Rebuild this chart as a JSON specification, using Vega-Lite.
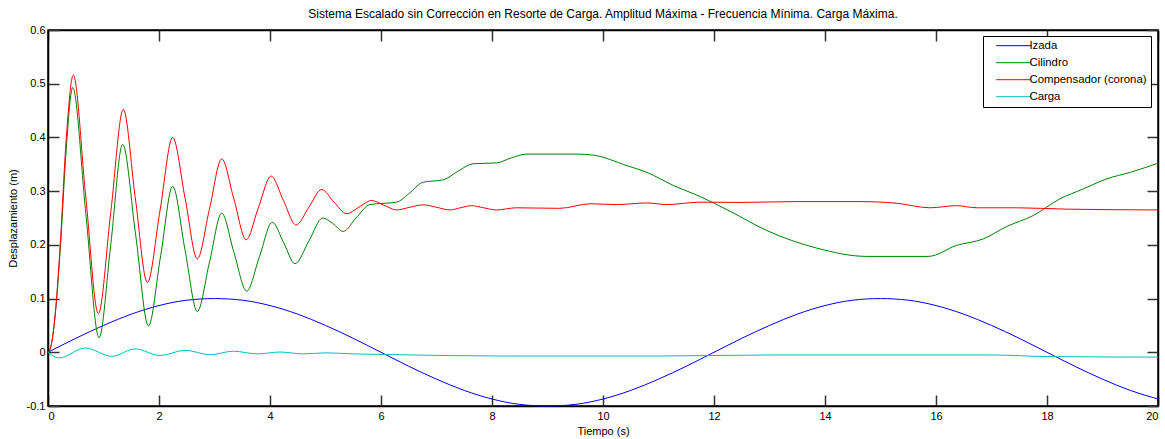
{
"$schema": "https://vega.github.io/schema/vega-lite/v6.json",
"width": 1110, "height": 376,
"autosize": {"type": "none"},
"padding": {"left": 48, "top": 30, "right": 7, "bottom": 33},
"config": {"font": "Liberation Sans", "view": {"stroke": "black", "strokeWidth": 1.5},
  "numberFormat": ".1~f",
  "locale": {"number": {"decimal": ".", "thousands": ",", "grouping": [3], "currency": ["$", ""], "minus": "-"}},
  "axis": {"labelFont": "Liberation Sans", "titleFont": "Liberation Sans", "labelFontSize": 11, "titleFontSize": 11, "titleFontWeight": "normal", "labelColor": "black", "titleColor": "black", "domainColor": "black", "domainWidth": 1.5, "tickColor": "#333", "tickWidth": 1.5, "tickSize": -11, "grid": false}},
"title": {"text": "Sistema Escalado sin Corrección en Resorte de Carga. Amplitud Máxima - Frecuencia Mínima. Carga Máxima.", "fontSize": 12, "fontWeight": "normal", "font": "Liberation Sans", "offset": 3},
"data": {"values": [
{"t":0,"v":0,"s":"Izada"},{"t":0.5,"v":0.026,"s":"Izada"},{"t":1,"v":0.05,"s":"Izada"},{"t":1.5,"v":0.071,"s":"Izada"},{"t":2,"v":0.087,"s":"Izada"},{"t":2.5,"v":0.097,"s":"Izada"},{"t":3,"v":0.1,"s":"Izada"},{"t":3.5,"v":0.097,"s":"Izada"},{"t":4,"v":0.087,"s":"Izada"},{"t":4.5,"v":0.071,"s":"Izada"},{"t":5,"v":0.05,"s":"Izada"},{"t":5.5,"v":0.026,"s":"Izada"},{"t":6,"v":0,"s":"Izada"},{"t":6.5,"v":-0.026,"s":"Izada"},{"t":7,"v":-0.05,"s":"Izada"},{"t":7.5,"v":-0.071,"s":"Izada"},{"t":8,"v":-0.087,"s":"Izada"},{"t":8.5,"v":-0.097,"s":"Izada"},{"t":9,"v":-0.1,"s":"Izada"},{"t":9.5,"v":-0.097,"s":"Izada"},{"t":10,"v":-0.087,"s":"Izada"},{"t":10.5,"v":-0.071,"s":"Izada"},{"t":11,"v":-0.05,"s":"Izada"},{"t":11.5,"v":-0.026,"s":"Izada"},{"t":12,"v":0,"s":"Izada"},{"t":12.5,"v":0.026,"s":"Izada"},{"t":13,"v":0.05,"s":"Izada"},{"t":13.5,"v":0.071,"s":"Izada"},{"t":14,"v":0.087,"s":"Izada"},{"t":14.5,"v":0.097,"s":"Izada"},{"t":15,"v":0.1,"s":"Izada"},{"t":15.5,"v":0.097,"s":"Izada"},{"t":16,"v":0.087,"s":"Izada"},{"t":16.5,"v":0.071,"s":"Izada"},{"t":17,"v":0.05,"s":"Izada"},{"t":17.5,"v":0.026,"s":"Izada"},{"t":18,"v":0,"s":"Izada"},{"t":18.5,"v":-0.026,"s":"Izada"},{"t":19,"v":-0.05,"s":"Izada"},{"t":19.5,"v":-0.071,"s":"Izada"},{"t":20,"v":-0.087,"s":"Izada"},
{"t":0,"v":0,"s":"Cilindro"},{"t":0.05,"v":0.01,"s":"Cilindro"},{"t":0.13,"v":0.07,"s":"Cilindro"},{"t":0.22,"v":0.19,"s":"Cilindro"},{"t":0.33,"v":0.38,"s":"Cilindro"},{"t":0.445,"v":0.493,"s":"Cilindro"},{"t":0.68,"v":0.26,"s":"Cilindro"},{"t":0.92,"v":0.027,"s":"Cilindro"},{"t":1.13,"v":0.2,"s":"Cilindro"},{"t":1.345,"v":0.387,"s":"Cilindro"},{"t":1.58,"v":0.218,"s":"Cilindro"},{"t":1.81,"v":0.049,"s":"Cilindro"},{"t":2.03,"v":0.18,"s":"Cilindro"},{"t":2.246,"v":0.309,"s":"Cilindro"},{"t":2.47,"v":0.19,"s":"Cilindro"},{"t":2.69,"v":0.076,"s":"Cilindro"},{"t":2.91,"v":0.168,"s":"Cilindro"},{"t":3.13,"v":0.259,"s":"Cilindro"},{"t":3.35,"v":0.186,"s":"Cilindro"},{"t":3.58,"v":0.114,"s":"Cilindro"},{"t":3.81,"v":0.178,"s":"Cilindro"},{"t":4.04,"v":0.242,"s":"Cilindro"},{"t":4.25,"v":0.203,"s":"Cilindro"},{"t":4.45,"v":0.165,"s":"Cilindro"},{"t":4.7,"v":0.207,"s":"Cilindro"},{"t":4.95,"v":0.25,"s":"Cilindro"},{"t":5.13,"v":0.24,"s":"Cilindro"},{"t":5.32,"v":0.225,"s":"Cilindro"},{"t":5.55,"v":0.25,"s":"Cilindro"},{"t":5.8,"v":0.275,"s":"Cilindro"},{"t":6.28,"v":0.2795,"s":"Cilindro"},{"t":6.5,"v":0.295,"s":"Cilindro"},{"t":6.76,"v":0.3167,"s":"Cilindro"},{"t":7.12,"v":0.321,"s":"Cilindro"},{"t":7.4,"v":0.338,"s":"Cilindro"},{"t":7.66,"v":0.351,"s":"Cilindro"},{"t":8.08,"v":0.3525,"s":"Cilindro"},{"t":8.35,"v":0.362,"s":"Cilindro"},{"t":8.63,"v":0.369,"s":"Cilindro"},{"t":9.53,"v":0.369,"s":"Cilindro"},{"t":9.83,"v":0.367,"s":"Cilindro"},{"t":10.43,"v":0.3475,"s":"Cilindro"},{"t":10.79,"v":0.335,"s":"Cilindro"},{"t":11.27,"v":0.3105,"s":"Cilindro"},{"t":11.75,"v":0.29,"s":"Cilindro"},{"t":12.29,"v":0.2625,"s":"Cilindro"},{"t":12.95,"v":0.2267,"s":"Cilindro"},{"t":13.85,"v":0.194,"s":"Cilindro"},{"t":14.75,"v":0.1785,"s":"Cilindro"},{"t":15.86,"v":0.1785,"s":"Cilindro"},{"t":16.37,"v":0.199,"s":"Cilindro"},{"t":16.85,"v":0.211,"s":"Cilindro"},{"t":17.27,"v":0.234,"s":"Cilindro"},{"t":17.75,"v":0.2545,"s":"Cilindro"},{"t":18.23,"v":0.2855,"s":"Cilindro"},{"t":18.65,"v":0.304,"s":"Cilindro"},{"t":19.08,"v":0.323,"s":"Cilindro"},{"t":19.5,"v":0.335,"s":"Cilindro"},{"t":20,"v":0.352,"s":"Cilindro"},
{"t":0,"v":0,"s":"Compensador (corona)"},{"t":0.05,"v":0.01,"s":"Compensador (corona)"},{"t":0.13,"v":0.07,"s":"Compensador (corona)"},{"t":0.22,"v":0.2,"s":"Compensador (corona)"},{"t":0.33,"v":0.4,"s":"Compensador (corona)"},{"t":0.456,"v":0.516,"s":"Compensador (corona)"},{"t":0.68,"v":0.29,"s":"Compensador (corona)"},{"t":0.907,"v":0.072,"s":"Compensador (corona)"},{"t":1.13,"v":0.26,"s":"Compensador (corona)"},{"t":1.357,"v":0.452,"s":"Compensador (corona)"},{"t":1.57,"v":0.29,"s":"Compensador (corona)"},{"t":1.79,"v":0.13,"s":"Compensador (corona)"},{"t":2.02,"v":0.265,"s":"Compensador (corona)"},{"t":2.246,"v":0.4,"s":"Compensador (corona)"},{"t":2.47,"v":0.287,"s":"Compensador (corona)"},{"t":2.69,"v":0.174,"s":"Compensador (corona)"},{"t":2.91,"v":0.267,"s":"Compensador (corona)"},{"t":3.13,"v":0.36,"s":"Compensador (corona)"},{"t":3.35,"v":0.285,"s":"Compensador (corona)"},{"t":3.57,"v":0.2095,"s":"Compensador (corona)"},{"t":3.79,"v":0.269,"s":"Compensador (corona)"},{"t":4.02,"v":0.328,"s":"Compensador (corona)"},{"t":4.24,"v":0.283,"s":"Compensador (corona)"},{"t":4.47,"v":0.237,"s":"Compensador (corona)"},{"t":4.7,"v":0.27,"s":"Compensador (corona)"},{"t":4.93,"v":0.303,"s":"Compensador (corona)"},{"t":5.15,"v":0.28,"s":"Compensador (corona)"},{"t":5.38,"v":0.258,"s":"Compensador (corona)"},{"t":5.6,"v":0.27,"s":"Compensador (corona)"},{"t":5.83,"v":0.2825,"s":"Compensador (corona)"},{"t":6.05,"v":0.274,"s":"Compensador (corona)"},{"t":6.28,"v":0.265,"s":"Compensador (corona)"},{"t":6.52,"v":0.27,"s":"Compensador (corona)"},{"t":6.76,"v":0.2745,"s":"Compensador (corona)"},{"t":7.0,"v":0.27,"s":"Compensador (corona)"},{"t":7.24,"v":0.265,"s":"Compensador (corona)"},{"t":7.43,"v":0.269,"s":"Compensador (corona)"},{"t":7.63,"v":0.273,"s":"Compensador (corona)"},{"t":7.85,"v":0.269,"s":"Compensador (corona)"},{"t":8.08,"v":0.265,"s":"Compensador (corona)"},{"t":8.44,"v":0.269,"s":"Compensador (corona)"},{"t":9.22,"v":0.268,"s":"Compensador (corona)"},{"t":9.77,"v":0.2765,"s":"Compensador (corona)"},{"t":10.25,"v":0.275,"s":"Compensador (corona)"},{"t":10.79,"v":0.278,"s":"Compensador (corona)"},{"t":11.15,"v":0.275,"s":"Compensador (corona)"},{"t":11.75,"v":0.2795,"s":"Compensador (corona)"},{"t":12.5,"v":0.279,"s":"Compensador (corona)"},{"t":13.43,"v":0.2805,"s":"Compensador (corona)"},{"t":14.63,"v":0.2805,"s":"Compensador (corona)"},{"t":15.29,"v":0.2775,"s":"Compensador (corona)"},{"t":15.89,"v":0.269,"s":"Compensador (corona)"},{"t":16.37,"v":0.273,"s":"Compensador (corona)"},{"t":16.73,"v":0.269,"s":"Compensador (corona)"},{"t":17.45,"v":0.269,"s":"Compensador (corona)"},{"t":18.35,"v":0.2665,"s":"Compensador (corona)"},{"t":20,"v":0.265,"s":"Compensador (corona)"},
{"t":0,"v":0,"s":"Carga"},{"t":0.2,"v":-0.0105,"s":"Carga"},{"t":0.67,"v":0.008,"s":"Carga"},{"t":1.15,"v":-0.0075,"s":"Carga"},{"t":1.57,"v":0.0063,"s":"Carga"},{"t":2.02,"v":-0.006,"s":"Carga"},{"t":2.47,"v":0.0037,"s":"Carga"},{"t":2.92,"v":-0.0045,"s":"Carga"},{"t":3.34,"v":0.002,"s":"Carga"},{"t":3.77,"v":-0.003,"s":"Carga"},{"t":4.18,"v":0.0005,"s":"Carga"},{"t":4.6,"v":-0.003,"s":"Carga"},{"t":5.0,"v":-0.001,"s":"Carga"},{"t":5.5,"v":-0.003,"s":"Carga"},{"t":6,"v":-0.004,"s":"Carga"},{"t":8.5,"v":-0.007,"s":"Carga"},{"t":11,"v":-0.007,"s":"Carga"},{"t":13,"v":-0.005,"s":"Carga"},{"t":17,"v":-0.005,"s":"Carga"},{"t":18,"v":-0.008,"s":"Carga"},{"t":20,"v":-0.009,"s":"Carga"}
]},
"layer": [
{"mark": {"type": "line", "strokeWidth": 1, "interpolate": "monotone"},
 "encoding": {
  "x": {"field": "t", "type": "quantitative", "scale": {"domain": [0, 20], "nice": false}, "axis": {"title": "Tiempo (s)", "values": [0,2,4,6,8,10,12,14,16,18,20], "labelPadding": 15, "titlePadding": 4}},
  "y": {"field": "v", "type": "quantitative", "scale": {"domain": [-0.1, 0.6], "nice": false, "zero": false}, "axis": {"title": "Desplazamiento (m)", "values": [-0.1,0,0.1,0.2,0.3,0.4,0.5,0.6], "format": ".1~f", "labelPadding": 14, "titlePadding": 8}},
  "color": {"field": "s", "type": "nominal", "sort": ["Izada", "Cilindro", "Compensador (corona)", "Carga"],
   "scale": {"domain": ["Izada", "Cilindro", "Compensador (corona)", "Carga"], "range": ["#0000ff", "#008000", "#ff0000", "#00bfbf"]},
   "legend": {"title": null, "orient": "none", "legendX": 935, "legendY": 6, "strokeColor": "black", "fillColor": "white", "padding": 4, "symbolType": "M1,0H11", "symbolSize": 49, "symbolStrokeWidth": 1, "labelFontSize": 11.4, "labelFont": "Liberation Sans", "labelColor": "black", "labelOffset": 31, "rowPadding": 4,
     "encode": {"symbols": {"update": {"stroke": {"scale": "color", "field": "value"}, "fill": {"value": "transparent"}, "strokeWidth": {"value": 1}}}}}}
 }},
{"mark": {"type": "line", "opacity": 0},
 "encoding": {
  "x": {"field": "t", "type": "quantitative", "axis": {"orient": "top", "labels": false, "title": null, "values": [0,2,4,6,8,10,12,14,16,18,20]}},
  "y": {"field": "v", "type": "quantitative", "axis": {"orient": "right", "labels": false, "title": null, "values": [-0.1,0,0.1,0.2,0.3,0.4,0.5,0.6]}}
 }}
],
"resolve": {"axis": {"x": "independent", "y": "independent"}}
}
